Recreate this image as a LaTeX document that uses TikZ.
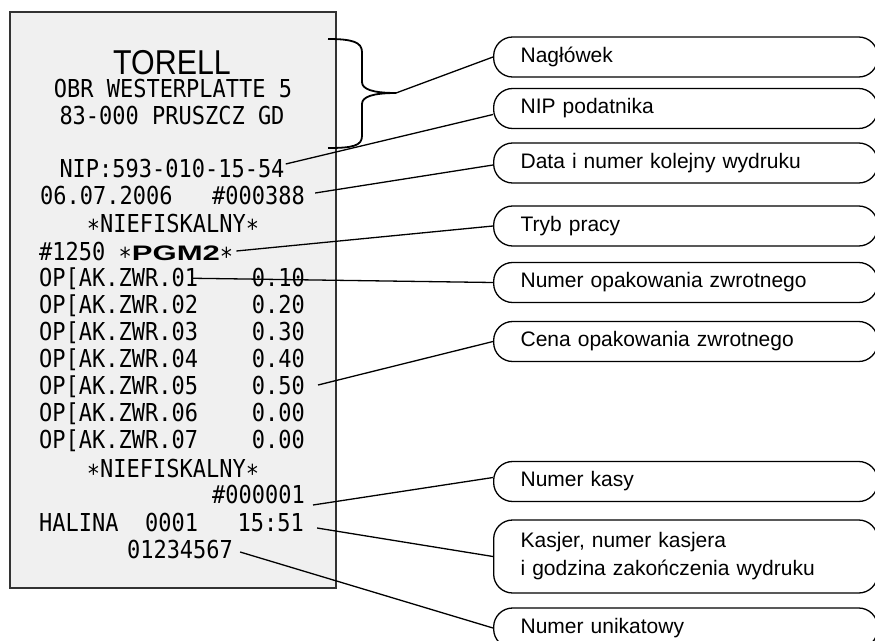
\documentclass[tikz,border=0pt]{standalone}
\usepackage{fontspec}
\usetikzlibrary{positioning}
\newfontfamily\calloutfont{Liberation Sans}
\newfontfamily\rcptfont[FakeStretch=0.89]{DejaVu Sans Mono}
\newfontfamily\torellfont[FakeStretch=0.88]{Liberation Sans}
\newfontfamily\pgmfont[FakeStretch=1.48]{Liberation Sans}
\newcommand{\rstar}{\raisebox{-5pt}[0pt][0pt]{*}}

\begin{document}
\begin{tikzpicture}[
  x=1pt, y=-1pt,
  rtext/.style={inner sep=0pt, font=\rcptfont\fontsize{24.7}{27}\selectfont},
  callout/.style={draw, line width=1.3pt, rounded corners=19pt,
    anchor=west, minimum height=40pt, minimum width=384pt,
    text width=330pt, inner xsep=27pt, align=left,
    text height=15pt, text depth=4.5pt,
    font=\calloutfont\fontsize{21}{28}\selectfont},
  lead/.style={line width=1.3pt}
]
\useasboundingbox (0,0) rectangle (875,640);

% Receipt slip
\node[
  draw=black!80, line width=1.8pt, fill=black!6, inner sep=0pt,
  minimum width=326pt, minimum height=576pt, anchor=north west
] (receipt) at (9,11) {};

\node[rtext, anchor=base, font=\torellfont\fontsize{34.5}{36}\selectfont]
  (torell) at (172,74) {TORELL};
\node[rtext, anchor=base] (addr1) at (173,97) {OBR WESTERPLATTE 5};
\node[rtext, anchor=base] (addr2) at (172,124) {83-000 PRUSZCZ GD};
\node[rtext, anchor=base] (nip) at (172,177) {NIP:593-010-15-54};
\node[rtext, anchor=base west] (date) at (40,204) {06.07.2006~~~\#000388};
\node[rtext, anchor=base] (nief1) at (173,232) {\rstar NIEFISKALNY\rstar};
\node[rtext, anchor=base west] (mode) at (39,260)
  {\#1250 \rstar{\pgmfont\bfseries\fontsize{21}{24}\selectfont PGM2}\rstar};

% Returnable packaging lines
\foreach \n/\c [count=\i] in {01/0.10,02/0.20,03/0.30,04/0.40,05/0.50,06/0.00,07/0.00} {
  \node[rtext, anchor=base west] (pak\i) at (39,259+27*\i) {OP[AK.ZWR.\n};
  \node[rtext, anchor=base east] (cena\i) at (305,259+27*\i) {\c};
}

\node[rtext, anchor=base] (nief2) at (173,477) {\rstar NIEFISKALNY\rstar};
\node[rtext, anchor=base east] (kasa) at (305,503) {\#000001};
\node[rtext, anchor=base west] (kasjer) at (39,531) {HALINA~~0001~~~15:51};
\node[rtext, anchor=base] (unik) at (180,558) {01234567};

% Header brace
\draw[line width=1.8pt] (328,39) .. controls (352,39) and (362,42) .. (362,52)
  -- (362,82) .. controls (362,89) and (372,93) .. (396,93) coordinate (tip)
  .. controls (372,93) and (362,97) .. (362,104)
  -- (362,136) .. controls (362,146) and (352,148) .. (328,148);

% Callouts
\node[callout] (naglowek) at (493,57) {Nagłówek};
\node[callout] (nipbox) at (493,108.5) {NIP podatnika};
\node[callout] (databox) at (493,163) {Data i numer kolejny wydruku};
\node[callout] (trybbox) at (493,226) {Tryb pracy};
\node[callout] (numerbox) at (493,282.5) {Numer opakowania zwrotnego};
\node[callout] (cenabox) at (493,341.5) {Cena opakowania zwrotnego};
\node[callout] (kasabox) at (493,481.5) {Numer kasy};
\node[callout, minimum height=73pt, text depth=32.5pt] (kasjerbox) at (493,556.5)
  {Kasjer, numer kasjera\\i godzina zakończenia wydruku};
\node[callout] (unikbox) at (493,628) {Numer unikatowy};

% Leader lines
\draw[lead] (tip) -- (naglowek.west);
\draw[lead] ([xshift=1pt,yshift=4pt]nip.east) -- ([yshift=-6pt]nipbox.west);
\draw[lead] ([xshift=10pt,yshift=2pt]date.east) -- ([yshift=-2pt]databox.west);
\draw[lead] ([xshift=3pt]mode.east) -- (trybbox.west);
\draw[lead] ([xshift=-7pt]pak1.east) -- (numerbox.west);
\draw[lead] ([xshift=13pt]cena5.east) -- (cenabox.west);
\draw[lead] ([xshift=8pt,yshift=-2pt]kasa.base east) -- ([yshift=4pt]kasabox.west);
\draw[lead] ([xshift=13pt,yshift=3pt]kasjer.base east) -- (kasjerbox.west);
\draw[lead] ([xshift=7pt,yshift=-3pt]unik.east) -- (unikbox.west);
\end{tikzpicture}
\end{document}
